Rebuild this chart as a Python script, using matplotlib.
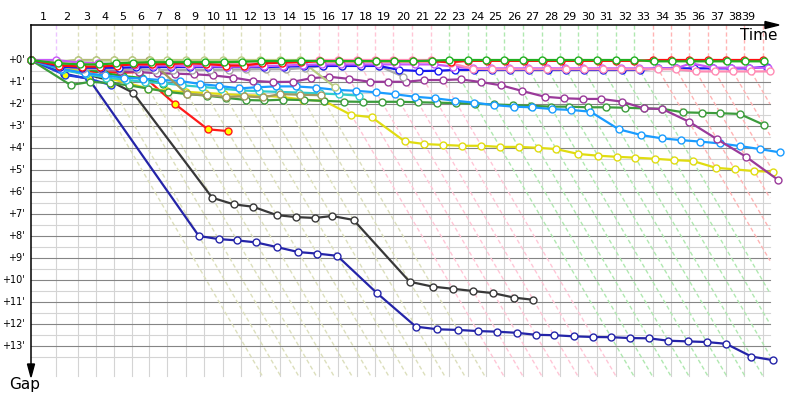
import numpy as np
import matplotlib.pyplot as plt

# leader lap times in minutes, lap 1..39
lap_times = [1.95, 1.69, 1.42, 1.40, 1.38, 1.37, 1.40, 1.46, 1.40, 1.46,
             1.40, 1.50, 1.56, 1.56, 1.48, 1.48, 1.48, 1.40, 1.40, 1.48,
             1.48, 1.40, 1.44, 1.44, 1.40, 1.48, 1.46, 1.42, 1.40, 1.48,
             1.44, 1.40, 1.48, 1.40, 1.44, 1.46, 1.40, 1.42, 1.48]

# who led each lap (1..39)
lap_leader = (['violet'] + ['olive'] * 5 + ['olive'] * 8 + ['pink'] * 7
              + ['green'] * 11 + ['red'] * 7)

# gap to leader (minutes) after each lap, starting at lap 0
gap_green = [0, 0.15, 0.2, 0.2, 0.15, 0.12, 0.1, 0.1, 0.1, 0.1, 0.1, 0.08, 0.05, 0.05, 0.03,
             0.05, 0.05, 0.05, 0.05, 0.05, 0.05, 0.03, 0, 0, 0, 0, 0, 0, 0, 0, 0, 0, 0,
             0.06, 0.06, 0.06, 0.06, 0.06, 0.06, 0.06]
gap_red = [0, 0.25, 0.3, 0.3, 0.25, 0.2, 0.2, 0.18, 0.15, 0.18, 0.25, 0.25, 0.15, 0.12, 0.1,
           0.06, 0.06, 0.06, 0.06, 0.06, 0.06, 0.06, 0.1, 0.04, 0.04, 0.04, 0.04, 0.04, 0.04,
           0.04, 0.04, 0.04, 0.04, 0, 0, 0, 0, 0, 0, 0]
gap_pink = [0, 0.15, 0.2, 0.2, 0.2, 0.18, 0.18, 0.17, 0.17, 0.17, 0.17, 0.17, 0.15, 0.12, 0.08,
            0, 0, 0, 0, 0, 0, 0, 0.15, 0.4, 0.42, 0.42, 0.42, 0.42, 0.42, 0.42, 0.42, 0.42,
            0.42, 0.42, 0.42, 0.52, 0.52, 0.52, 0.52, 0.52]
gap_violet = [0, 0, 0.12, 0.15, 0.2, 0.22, 0.25, 0.25, 0.28, 0.28, 0.3, 0.3, 0.28, 0.25, 0.22,
              0.2, 0.2, 0.2, 0.2, 0.2, 0.2, 0.2, 0.3, 0.38, 0.38, 0.38, 0.38, 0.38, 0.38, 0.38,
              0.38, 0.38, 0.38, 0.38, 0.38, 0.15, 0.35, 0.35, 0.35, 0.35]
gap_blue = [0, 0.3, 0.35, 0.35, 0.35, 0.33, 0.32, 0.32, 0.32, 0.32, 0.32, 0.32, 0.32, 0.3, 0.28,
            0.27, 0.27, 0.27, 0.27, 0.45, 0.5, 0.49, 0.45, 0.45, 0.45, 0.45, 0.45, 0.45, 0.45,
            0.45, 0.45, 0.45, 0.45, 0.38, 0.38, 0.38, 0.38, 0.38, 0.38, 0.3]
gap_gray = [0, 0.3, 0.4, 0.42, 0.43, 0.43, 0.45, 0.45, 0.45, 0.45, 0.44, 0.43, 0.42, 0.42, 0.37,
            0.27, 0.27, 0.27, 0.27, 0.75]
gap_olive_lt = [0, 0.05, 0.02, 0.02, 0.02, 0.02, 0.02, 0, 0, 0, 0, 0, 0, 0, 0, 1.24]
gap_olive_dk = [0, 0.1, 0, 0, 0, 0, 0, 1.55, 1.6, 1.68, 1.65, 1.7, 1.55, 1.58, 1.6]
gap_azure = [0, 0.4, 0.6, 0.7, 0.8, 0.85, 0.91, 0.95, 1.09, 1.18, 1.29, 1.24, 1.2, 1.2, 1.26,
             1.36, 1.4, 1.47, 1.56, 1.67, 1.74, 1.85, 1.94, 2.05, 2.12, 2.15, 2.23, 2.27, 2.35,
             3.15, 3.41, 3.56, 3.64, 3.71, 3.79, 3.91, 4.05, 4.2]
gap_cyan = [0, 0.45, 0.65, 0.8, 0.9, 1.0, 1.05, 1.15, 1.22, 1.3, 1.38, 1.42, 1.45, 1.48, 1.52,
            1.56, 1.62]
gap_dkgreen = [0, 1.14, 0.99, 1.05, 1.15, 1.3, 1.45, 1.55, 1.62, 1.72, 1.82, 1.84, 1.8, 1.82,
               1.86, 1.89, 1.9, 1.9, 1.9, 1.92, 1.94, 1.96, 1.99, 2.02, 2.05, 2.08, 2.12, 2.12,
               2.15, 2.15, 2.17, 2.2, 2.22, 2.38, 2.4, 2.42, 2.45, 2.95]
gap_yellow = [0, 0.3, 0.55, 0.8, 1.05, 1.3, 1.4, 1.45, 1.5, 1.55, 1.6, 1.62, 1.68, 1.8, 1.86,
              2.5, 2.6, 3.7, 3.82, 3.86, 3.9, 3.9, 3.95, 3.95, 3.99, 4.05, 4.27, 4.35, 4.4,
              4.44, 4.49, 4.55, 4.59, 4.9, 4.97, 5.05, 5.08]
gap_purple = [0, 0.2, 0.3, 0.4, 0.5, 0.55, 0.6, 0.62, 0.65, 0.7, 0.8, 0.95, 1.0, 0.99, 0.83,
              0.76, 0.86, 0.99, 0.99, 0.99, 0.91, 0.91, 0.88, 1.0, 1.15, 1.41, 1.67, 1.74,
              1.77, 1.77, 1.89, 2.2, 2.23, 2.8, 3.6, 4.39, 5.45]
gap_navy = [0, 0.62, 0.86, 8.0, 8.14, 8.2, 8.29, 8.5, 8.73, 8.8, 8.9, 10.6, 12.12, 12.24, 12.27,
            12.32, 12.35, 12.4, 12.49, 12.51, 12.56, 12.59, 12.6, 12.64, 12.65, 12.76, 12.79,
            12.82, 12.9, 13.48, 13.64]
gap_black = [0, 0.4, 0.65, 0.9, 1.49, 6.26, 6.56, 6.67, 7.05, 7.14, 7.18, 7.09, 7.27, 10.08,
             10.3, 10.4, 10.5, 10.6, 10.8, 10.9]
gap_red_y = [0, 0.4, 0.52, 0.55, 0.58, 0.55, 2.01, 3.15, 3.23]
gap_green_y = [0, 0.41, 0.35, 0.59, 0.73, 0.82, 1.1]
gap_blue_y = [0, 0.68, 0.84, 1.14]

# (gaps, line colour, marker fill), bottom to top
series = [
    (gap_navy, '#2424a8', 'white'),
    (gap_black, '#383838', 'white'),
    (gap_red_y, '#ff1a1a', '#ffff00'),
    (gap_green_y, '#22a822', '#ffff00'),
    (gap_blue_y, '#2040e0', '#ffff00'),
    (gap_yellow, '#e0dc10', 'white'),
    (gap_dkgreen, '#3c9c3c', 'white'),
    (gap_cyan, '#30cccc', 'white'),
    (gap_azure, '#1a9cff', 'white'),
    (gap_purple, '#9a3a9a', 'white'),
    (gap_olive_dk, '#a09a60', 'white'),
    (gap_olive_lt, '#b8cc80', 'white'),
    (gap_gray, '#a8a8a8', 'white'),
    (gap_blue, '#1818f0', 'white'),
    (gap_violet, '#c858f8', 'white'),
    (gap_pink, '#ff8cb4', 'white'),
    (gap_red, '#ff1010', 'white'),
    (gap_green, '#20b020', 'white'),
]

dash_col = {'violet': '#ecc4ff', 'olive': '#dcdfbc', 'pink': '#ffc6d6',
            'green': '#b0e8b0', 'red': '#ffb4b4'}

# pixel layout helpers
PX_T, PX_G = 12.85, 22.0
X0, Y0 = 31, 60


def tx(px):
    return (px - X0) / PX_T


def gy(py):
    return (py - Y0) / PX_G


lap_end = np.concatenate([[0], np.cumsum(lap_times)])

fig = plt.figure(figsize=(8, 4), dpi=100)
ax = fig.add_axes([0, 0, 1, 1])
ax.set_xlim(tx(0), tx(800))
ax.set_ylim(gy(400), gy(0))
ax.axis('off')

t_right = tx(770)
g_top = gy(25)
g_bot = gy(376)

# grid
for g in np.arange(0.5, 14, 1):
    ax.plot([0, t_right], [g, g], color='#d4d4d4', lw=0.8, zorder=1)
for g in range(1, 14):
    ax.plot([0, t_right], [g, g], color='#858585', lw=0.8, zorder=1.2)
for t in lap_end[1:]:
    ax.plot([t, t], [0, g_bot], color='#d4d4d4', lw=0.8, zorder=1.1)

# lap lines coloured by leader
for k in range(1, len(lap_end)):
    t = lap_end[k]
    c = dash_col[lap_leader[k - 1]]
    ax.plot([t, t], [g_top, 0], color=c, lw=1.0, ls=(0, (3, 2)), zorder=2)
    if k > 1:
        g_end = min(g_bot, t_right - t)
        ax.plot([t, t + g_end], [0, g_end], color=c, lw=1.0, ls=(0, (3, 2)), zorder=2)

# drivers
for z, (gaps, col, face) in enumerate(series):
    g = np.array(gaps)
    x = lap_end[:len(g)] + g
    ax.plot(x, g, color=col, lw=1.6, marker='o', ms=5, mfc=face, mec=col,
            mew=1.0, zorder=3 + z * 0.1, solid_joinstyle='round')

# axes with arrows
ax.plot([0, tx(768)], [g_top, g_top], color='black', lw=1.1, zorder=5)
ax.fill([tx(765), tx(779), tx(765)], [gy(21.5), g_top, gy(28.5)], color='black', zorder=5)
ax.plot([0, 0], [g_top, gy(366)], color='black', lw=1.1, zorder=5)
ax.fill([tx(27.5), 0, tx(34.5)], [gy(364), gy(377), gy(364)], color='black', zorder=5)

for k in range(1, len(lap_end)):
    xc = min((lap_end[k - 1] + lap_end[k]) / 2, tx(748))
    ax.text(xc, gy(17), str(k), ha='center', va='center', fontsize=8)
for i in range(14):
    ax.text(tx(25), i, f"+{i}'", ha='right', va='center', fontsize=7)

ax.text(tx(778), gy(35), 'Time', ha='right', va='center', fontsize=11)
ax.text(tx(25), gy(385), 'Gap', ha='center', va='center', fontsize=11)

fig.savefig('out.png', dpi=100)
